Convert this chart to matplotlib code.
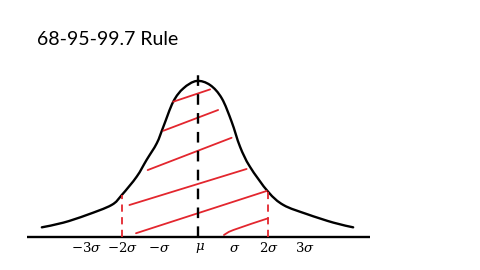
import matplotlib
matplotlib.use('Agg')
import matplotlib.pyplot as plt
from matplotlib.path import Path
from matplotlib.patches import PathPatch
import numpy as np

# hand drawn bell curve, x in sigma units, y relative to the peak
curve_x = [-4.21, -3.62, -2.98, -2.30, -2.02, -1.61, -1.34, -1.06, -0.88, -0.61, -0.33, 0.03,
           0.40, 0.72, 0.99, 1.22, 1.49, 1.99, 2.41, 3.05, 3.78, 4.32]
curve_y = [0.062, 0.092, 0.141, 0.205, 0.269, 0.387, 0.494, 0.601, 0.707, 0.867, 0.953, 1.0,
           0.974, 0.889, 0.739, 0.579, 0.451, 0.290, 0.205, 0.147, 0.092, 0.062]

# red hatch strokes inside +-2 sigma
hatch_x = [[-0.61, 0.40], [-0.88, 0.62], [-1.31, 0.99], [-1.81, 1.40], [-1.63, 1.95], [0.78, 1.04, 1.99]]
hatch_y = [[0.867, 0.946], [0.681, 0.814], [0.429, 0.636], [0.205, 0.436], [0.024, 0.295], [0.013, 0.045, 0.120]]

# dashed markers
mu_x = 0.07
mu_top = 1.09
two_sigma_x = [-2.01, 1.99]
two_sigma_top = [0.269, 0.295]

axis_range = [-4.62, 4.78]
tick_pos = [-3.0, -2.0, -1.0, 0.12, 1.07, 2.0, 3.0]
tick_labels = [r'$-3\sigma$', r'$-2\sigma$', r'$-\sigma$', r'$\mu$', r'$\sigma$', r'$2\sigma$', r'$3\sigma$']


def smooth_path(xs, ys):
    # catmull-rom through the points, as cubic bezier segments
    pts = np.column_stack([xs, ys])
    verts = [pts[0]]
    codes = [Path.MOVETO]
    n = len(pts)
    for i in range(n - 1):
        p0 = pts[max(i - 1, 0)]
        p1 = pts[i]
        p2 = pts[i + 1]
        p3 = pts[min(i + 2, n - 1)]
        c1 = p1 + (p2 - p0) / 6.0
        c2 = p2 - (p3 - p1) / 6.0
        verts += [c1, c2, p2]
        codes += [Path.CURVE4] * 3
    return Path(verts, codes)


plt.rcParams['mathtext.fontset'] = 'dejavuserif'

fig = plt.figure(figsize=(4.8, 2.7), dpi=100)
ax = fig.add_axes([0, 0, 1, 1])
ax.set_xlim(-5.356, 7.795)
ax.set_ylim(-0.2115, 1.519)
ax.axis('off')

red = '#e3262e'

# base line
ax.plot(axis_range, [0, 0], color='black', lw=1.7, solid_capstyle='butt')

# curve
ax.add_patch(PathPatch(smooth_path(curve_x, curve_y), fill=False, edgecolor='black',
                       lw=1.7, capstyle='round', joinstyle='round'))

# hatch
for hx, hy in zip(hatch_x, hatch_y):
    if len(hx) > 2:
        ax.add_patch(PathPatch(smooth_path(hx, hy), fill=False, edgecolor=red, lw=1.3, capstyle='round'))
    else:
        ax.plot(hx, hy, color=red, lw=1.3, solid_capstyle='round')

# dashed lines
ax.plot([mu_x, mu_x], [0, mu_top], color='black', lw=1.7, dashes=(4.5, 3.5))
for sx, st in zip(two_sigma_x, two_sigma_top):
    ax.plot([sx, sx], [0, st], color=red, lw=1.3, dashes=(4, 3))

for p, lab in zip(tick_pos, tick_labels):
    ax.text(p, -0.072, lab, ha='center', va='center', fontsize=9.5)

fig.text(0.077, 0.852, '68-95-99.7 Rule', fontsize=14, family=['Lato', 'DejaVu Sans'],
         ha='left', va='center')

plt.savefig('out.png', dpi=100)
